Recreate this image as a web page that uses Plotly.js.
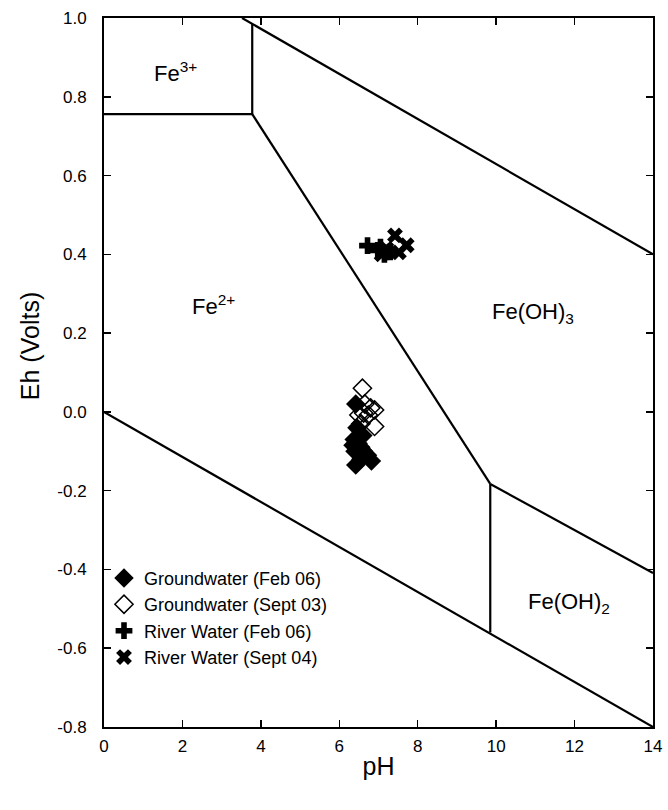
<!DOCTYPE html>
<html>
<head>
<meta charset="utf-8">
<script src="https://cdn.plot.ly/plotly-3.0.1.min.js"></script>
<style>html,body{margin:0;padding:0;background:#fff;}#chart{width:668px;height:810px;}</style>
</head>
<body>
<div id="chart"></div>
<script>
// Measured data (pH, Eh in volts)
const gwFeb06_pH = [6.42, 6.45, 6.38, 6.48, 6.55, 6.62, 6.72, 6.40, 6.55, 6.82, 6.42, 6.60, 6.35];
const gwFeb06_Eh = [0.02, -0.04, -0.07, -0.08, -0.09, -0.10, -0.11, -0.10, -0.12, -0.125, -0.135, -0.06, -0.085];

const gwSep03_pH = [6.59, 6.65, 6.80, 6.90, 6.50, 6.62, 6.74, 6.90, 6.55];
const gwSep03_Eh = [0.06, 0.02, 0.01, 0.005, -0.008, -0.003, -0.008, -0.037, -0.03];

const rwFeb06_pH = [6.72, 6.98, 7.15, 7.05, 7.30];
const rwFeb06_Eh = [0.422, 0.41, 0.40, 0.418, 0.406];

const rwSep04_pH = [7.42, 7.72, 7.52, 7.20, 7.08];
const rwSep04_Eh = [0.448, 0.423, 0.405, 0.414, 0.40];

// Stability field boundaries (pH, Eh)
const upperWater_pH = [3.52, 14];
const upperWater_Eh = [1.0, 0.40];
const lowerWater_pH = [0, 14];
const lowerWater_Eh = [0.0, -0.80];
const fe3fe2_pH = [0, 3.78, 3.78];
const fe3fe2_Eh = [0.756, 0.756, 0.985];
const fe2feoh3_pH = [3.78, 9.85];
const fe2feoh3_Eh = [0.756, -0.183];
const fe2feoh2_pH = [9.85, 9.85];
const fe2feoh2_Eh = [-0.183, -0.56];
const feoh3feoh2_pH = [9.85, 14];
const feoh3feoh2_Eh = [-0.183, -0.409];

const xTicks = [0, 2, 4, 6, 8, 10, 12, 14];
const yTicks = [-0.8, -0.6, -0.4, -0.2, 0.0, 0.2, 0.4, 0.6, 0.8, 1.0];
const yTickText = ["-0.8", "-0.6", "-0.4", "-0.2", "0.0", "0.2", "0.4", "0.6", "0.8", "1.0"];

const fieldLabels = ["Fe<sup>3+</sup>", "Fe<sup>2+</sup>", "Fe(OH)<sub>3</sub>", "Fe(OH)<sub>2</sub>"];
const fieldLabel_pH = [1.83, 2.78, 10.94, 11.86];
const fieldLabel_Eh = [0.862, 0.272, 0.251, -0.484];

const yTitle = 'Eh (Volts)';
const xTitle = 'pH';

const FONT = 'Liberation Sans, Arial, Helvetica, sans-serif';

const boundaries = [
  [upperWater_pH, upperWater_Eh],
  [lowerWater_pH, lowerWater_Eh],
  [fe3fe2_pH, fe3fe2_Eh],
  [fe2feoh3_pH, fe2feoh3_Eh],
  [fe2feoh2_pH, fe2feoh2_Eh],
  [feoh3feoh2_pH, feoh3feoh2_Eh]
];

const traces = boundaries.map(b => ({
  x: b[0], y: b[1], mode: 'lines', type: 'scatter',
  line: {color: '#000', width: 2.2}, showlegend: false, hoverinfo: 'skip'
}));

traces.push({
  x: gwFeb06_pH, y: gwFeb06_Eh, mode: 'markers', type: 'scatter',
  name: 'Groundwater (Feb 06)',
  marker: {symbol: 'diamond', size: 15, color: '#000', line: {color: '#000', width: 0}}
});
traces.push({
  x: gwSep03_pH, y: gwSep03_Eh, mode: 'markers', type: 'scatter',
  name: 'Groundwater (Sept 03)',
  marker: {symbol: 'diamond-open', size: 14, color: '#000', line: {color: '#000', width: 1.5}}
});
traces.push({
  x: rwFeb06_pH, y: rwFeb06_Eh, mode: 'markers', type: 'scatter',
  name: 'River Water (Feb 06)',
  marker: {symbol: 'cross', size: 14, color: '#000', line: {width: 0}}
});
traces.push({
  x: rwSep04_pH, y: rwSep04_Eh, mode: 'markers', type: 'scatter',
  name: 'River Water (Sept 04)',
  marker: {symbol: 'x', size: 14, color: '#000', line: {width: 0}}
});

const annotations = fieldLabels.map((t, i) => ({
  x: fieldLabel_pH[i], y: fieldLabel_Eh[i], xref: 'x', yref: 'y',
  text: t, showarrow: false,
  font: {family: FONT, size: 22, color: '#000'}
}));
annotations.push({
  x: -0.135, y: 0.537, xref: 'paper', yref: 'paper',
  text: yTitle, textangle: -90, showarrow: false,
  xanchor: 'center', yanchor: 'middle',
  font: {family: FONT, size: 25, color: '#000'}
});

const axisCommon = {
  showgrid: false, zeroline: false, showline: true, linecolor: '#000', linewidth: 2,
  mirror: 'ticks', ticks: 'inside', ticklen: 7, tickwidth: 1.5, tickcolor: '#000',
  tickfont: {family: FONT, size: 17, color: '#000'}
};

const layout = {
  width: 668, height: 810,
  margin: {l: 104, r: 15, t: 18, b: 83},
  paper_bgcolor: '#fff', plot_bgcolor: '#fff',
  font: {family: FONT, color: '#000'},
  xaxis: Object.assign({}, axisCommon, {
    range: [0, 14], tickvals: xTicks, ticklabelstandoff: 3,
    title: {text: xTitle, font: {size: 25, family: FONT}, standoff: 2}
  }),
  yaxis: Object.assign({}, axisCommon, {
    range: [-0.8, 1.0], tickvals: yTicks, ticktext: yTickText, ticklabelstandoff: 12
  }),
  legend: {
    x: 0.0, y: 0.236, xanchor: 'left', yanchor: 'top',
    bgcolor: 'rgba(0,0,0,0)', borderwidth: 0,
    font: {family: FONT, size: 18, color: '#000'},
    itemwidth: 30, tracegroupgap: 0
  },
  annotations: annotations,
  showlegend: true
};

Plotly.newPlot('chart', traces, layout, {displayModeBar: false, staticPlot: true});
</script>
</body>
</html>
